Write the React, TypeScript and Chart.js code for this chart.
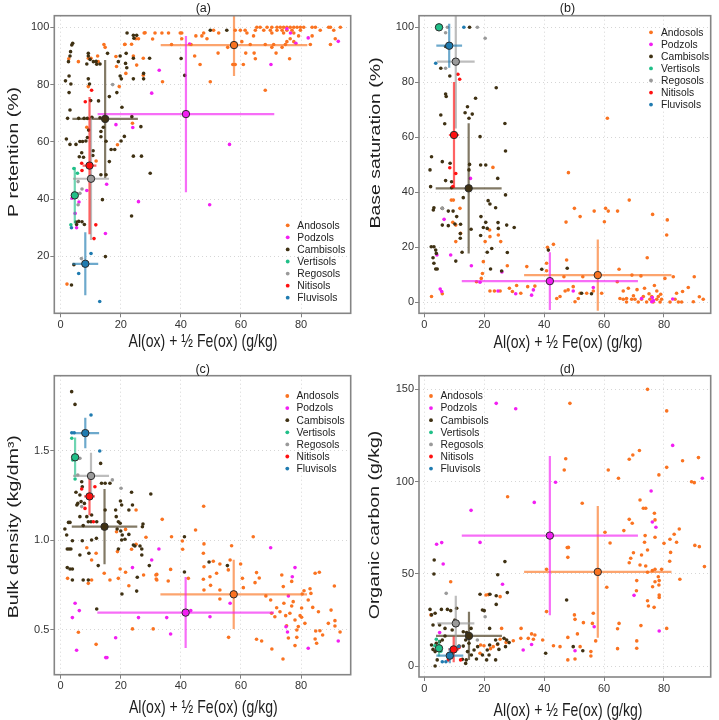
import React, { useEffect, useRef } from 'react';
import { Chart, registerables } from 'chart.js';

Chart.register(...registerables);

const FONT = "'Liberation Sans', Arial, Helvetica, sans-serif";
const SOILS = ['Andosols', 'Podzols', 'Cambisols', 'Vertisols', 'Regosols', 'Nitisols', 'Fluvisols'];
const COLORS = ['#fa7321', '#f21ff2', '#3f3113', '#20bf88', '#9a9a9a', '#ff1010', '#1f7bb0'];
const BAR_ALPHA = 'a6';
const X_LABEL = 'Al(ox) + ½ Fe(ox) (g/kg)';
const X_TICKS = [0, 20, 40, 60, 80];

// ---------- Panel (a): P retention ----------
const A_AND = [
  [14.8, 93], [12.5, 88], [9.2, 89.2], [10.1, 89.2], [5.9, 88], [18.6, 86.3], [21.4, 94.1], [23.6, 94.1], [25.3, 86.8], [27.5, 89.2],
  [30.6, 95.9], [28.1, 98.1], [27.5, 83.3], [19.5, 79.3], [9.2, 79.3], [18.4, 89.8], [21.7, 83.9], [23.9, 66.5], [8.7, 65.1], [11.8, 53.3],
  [2.1, 10.3], [25, 96], [25.9, 96], [31.4, 98], [27.8, 98], [14.4, 94], [21.3, 94], [24.2, 90], [12.3, 90], [2.7, 89], [18.9, 59],
  [65.3, 100], [66.4, 100], [68.7, 100], [70.3, 100], [72, 100], [73.1, 100], [74.2, 100], [75.3, 100], [76.4, 100], [77.6, 100],
  [78.7, 100], [79.8, 100], [80.9, 100], [83.7, 100], [84.8, 100], [89.2, 100], [89.8, 100], [93.1, 100],
  [50.9, 99], [58.1, 99], [59.8, 99], [61.4, 99], [64.8, 99], [67.6, 99], [69.8, 99], [72, 99], [73.7, 99], [75.3, 99], [77, 99], [79.8, 99], [86.4, 99], [90.9, 99],
  [33.7, 98], [35.9, 98], [39.8, 98], [40.3, 98], [47.6, 98], [52.6, 98], [62, 98], [70.3, 98], [74.2, 98], [77.6, 98],
  [45, 97], [47, 97], [64.2, 97], [79.2, 97], [83.7, 97],
  [40.3, 96], [48.7, 96], [76.4, 96], [91.4, 96],
  [60.3, 95], [75.3, 95], [77.6, 95],
  [36.9, 94], [43.4, 94], [63.1, 94], [68.1, 94], [70.9, 94], [74.8, 94], [83.1, 94], [89.8, 94],
  [55.6, 93], [70.3, 93], [73.7, 93],
  [52.4, 91], [61.6, 91], [64.4, 91], [71.7, 91],
  [44.6, 90], [64.8, 89], [76.2, 89],
  [46.4, 87], [57.3, 87], [58.1, 87], [60.8, 87],
  [33.9, 81], [49.8, 81], [68.1, 78],
];
const A_POD = [
  [32.8, 85], [30.3, 77], [18.4, 66], [24, 65], [56.2, 59.1], [15.3, 45.2], [8.7, 43], [25.9, 39.1], [49.6, 38], [6.1, 39],
  [4.8, 35], [5.3, 30], [14.9, 28], [3.8, 40.3], [70, 87], [75.3, 99.5], [82.4, 96.3], [92.4, 95.1], [78.3, 94.4], [42.9, 94.2], [76.5, 98],
];
const A_CAM = [
  [3.7, 93.8], [4, 94.4], [3.3, 91.5], [3.1, 90], [2.6, 88], [2.8, 83], [3.4, 80.2], [2.8, 77.2], [1.6, 81.3], [3.1, 71.1],
  [2.3, 68.2], [1.9, 61], [3.1, 59.1], [5.1, 59.1], [6.2, 54.8], [7.6, 54.6], [7, 56.2], [6.4, 60.1], [7.3, 60.1], [6, 68.2],
  [7.8, 68.2], [8.9, 68.2], [10.4, 68.6], [9.2, 90.9], [9.2, 90], [9.2, 82], [9.6, 80.2], [8.7, 87.2], [9.8, 88.8], [10.9, 88],
  [11.8, 88.1], [13.1, 87.2], [12, 87.1], [15.6, 90.9], [19.8, 90], [19.2, 88], [21.8, 90.9], [21.6, 87.4], [22.1, 98], [24.2, 97.2],
  [25.3, 97.2], [24.4, 96.2], [24.2, 89.2], [29.6, 89.2], [27.6, 83.9], [27.6, 82], [24.2, 82], [22, 85.9], [19.8, 83], [20.2, 82],
  [16.2, 75.8], [18.7, 77.2], [20.4, 72.1], [21.2, 61.9], [20.1, 60.3], [18, 57.3], [16.8, 57.3], [16.2, 53.1], [13.4, 63.6], [14.2, 65.1],
  [13.1, 68.4], [12.6, 74.3], [13.4, 61.8], [15.1, 60.2], [10, 74.4], [10.7, 55.2], [10.8, 56.9], [9.3, 64.1], [8.9, 61.5], [8.4, 60.3],
  [15.1, 48.5], [13.4, 48.5], [13.9, 39.8], [26.7, 65.3], [23.7, 68.8], [24.2, 55], [26.9, 55], [29.8, 49], [23.6, 34.1], [14.9, 19.9],
  [3.6, 10], [4.4, 17.1], [5.1, 32], [6, 32.2], [7.1, 32.1], [7.9, 31.1], [5.3, 31.1], [40.1, 89.1], [41.3, 83.2], [49.8, 99], [55.3, 99],
];
const A_VER = [[4.4, 50.7], [5.6, 49], [3.4, 31], [4.4, 42]];
const A_REG = [[7.1, 43.5], [6.4, 42], [5.8, 46.1], [4.4, 41], [6.9, 19.2], [17.3, 80], [5.8, 38]];
const A_NIT = [[8.2, 74], [10.3, 78], [7.1, 50], [11.7, 31], [11.1, 26.2], [7, 52.5]];
const A_FLU = [[10.1, 21], [6, 14], [3.6, 30], [13, 4.2]];
const A_MX = [57.7, 41.7, 14.8, 4.7, 10.1, 9.6, 8.2];
const A_SX = [24.4, 29.4, 10.9, 0.6, 6.0, 2.3, 4.3];
const A_MY = [93.8, 69.7, 68.0, 41.3, 47.1, 51.7, 17.4];
const A_SY = [10.8, 27.3, 20.6, 9.8, 21.4, 24.0, 11.0];

// ---------- Panel (b): Base saturation ----------
const B_AND = [
  [9, 37.1], [9.7, 37.1], [11.9, 34.1], [9.5, 29], [10.5, 28], [12.1, 25], [10.5, 22], [21.8, 26.2], [21.9, 23.8], [20.3, 22],
  [24.7, 24.4], [25.5, 22], [19.7, 14.7], [19.4, 10.4], [19, 8.6], [17.4, 7.4], [21.9, 4], [23.4, 4], [25.3, 4], [28.4, 5],
  [29.4, 3.8], [27.7, 13.2], [22.9, 49], [6, 3], [2.4, 2],
  [30.8, 6], [32.2, 3.2], [34.5, 5.6], [34.2, 12.9], [36.9, 5.8], [40.8, 14.1], [41.1, 19.9], [43.1, 21], [40.8, 11.4], [44.2, 1.3],
  [45.3, 2], [47, 4], [46.6, 9.2], [47.5, 15.3], [48.1, 47.1], [47.3, 29.1], [48, 4.4], [49.7, 5.6], [50.3, 0.1], [51.4, 1.3],
  [52, 3.2], [50.1, 34.1], [52, 31.1], [52.9, 9.2], [54.2, 3.2], [56.4, 4], [56.7, 33.1], [59.2, 3.2], [60.1, 29.2], [60.5, 34.1],
  [61.1, 66.9], [61.4, 33.1], [64.5, 33.1], [65, 11.9], [64.4, 7.4], [66.4, 4], [65.3, 1.3], [67.5, 1.3], [68.1, 5], [68.4, 37.1],
  [69.3, 9.8], [69.8, 2.3], [70.3, 1], [72.3, 9.5], [74.4, 16.1], [76.2, 31.9], [77.6, 4], [80.3, 8.6], [80.9, 24.4], [81.1, 29.9],
  [83.1, 9.2], [84.2, 3.2], [86.2, 3.8], [88.1, 5.3], [90.1, 9.2], [89.8, 0.1], [91.8, 1.9], [93.1, 1],
  [69.2, 1], [71.4, 0], [72.5, 1], [73.1, 2], [74.2, 0], [75.3, 1], [75.9, 2], [76.4, 0], [77.6, 1], [78.1, 2],
  [78.7, 0], [79.2, 1], [82, 0], [83.7, 1], [84.8, 0], [85.9, 0], [66.4, 1], [67.5, 0], [73.5, 5], [75, 3], [76.8, 6], [78.9, 2.8], [71, 4.5],
];
const B_POD = [
  [6.6, 30.1], [8.8, 17.1], [4.2, 17.1], [15.7, 13.2], [18.6, 7.2], [24.6, 4], [25.9, 10.9], [30.5, 3], [15.4, 45], [5.3, 4.7],
  [5.8, 3.8], [35.8, 2.5], [36.4, 4.4], [49.7, 4], [56.4, 5.3], [72.5, 1.3], [76.1, 1.6], [75.9, 0.1], [82.9, 1.1], [76.5, 0.5],
];
const B_CAM = [
  [15.1, 100], [7.1, 93], [5.5, 85.1], [8.5, 82.3], [7.1, 75.7], [7.3, 74.8], [14.4, 71.1], [17.1, 74.2], [13.6, 68.9], [16, 68.4],
  [14.9, 66.9], [5.5, 68.1], [6.8, 64.9], [24, 78], [26.9, 65], [18.6, 60.2], [27.1, 55], [2.4, 52.9], [6, 51.1], [8.6, 50.5],
  [1.9, 48.1], [15.1, 50.1], [14.9, 48.1], [18.8, 49.9], [20.5, 49.9], [24.5, 45], [2.1, 42], [7.1, 44.2], [9.1, 43.8], [9.1, 41.6],
  [13, 38], [27.1, 39], [3.2, 34.3], [3, 33.5], [6, 34.1], [8, 33.1], [9.6, 33.1], [10.8, 31.1], [12.1, 28.3], [10.2, 28.4],
  [8, 27.8], [6, 28], [12, 24.9], [12, 23.2], [2.3, 20.1], [3.2, 20.1], [3.8, 18.9], [4, 17.7], [2.9, 16.1], [3.2, 14.1],
  [3.8, 12], [4.3, 12], [18.9, 31.1], [18.8, 24.2], [20.5, 29], [21, 26.8], [19.7, 27.1], [24.6, 28.9], [24.7, 26.8], [27.5, 28],
  [30, 27.1], [21, 18.1], [22.5, 19.5], [22.1, 12], [27.7, 18], [12.6, 18.1], [10.5, 14.9], [15.6, 26.5], [21.3, 36.9], [21.9, 35.7],
  [23.8, 34.3], [25.8, 11.3], [39.2, 11.9], [41.4, 18.9], [47.7, 12.3], [52.5, 3.2], [55.8, 3],
];
const B_VER = [[4.2, 100], [5.4, 100]];
const B_REG = [[7.7, 100], [17.7, 100], [20.3, 96], [7.1, 98], [6, 34.1], [7.1, 85.1]];
const B_NIT = [[11.2, 82.9], [11.8, 81.1], [8.5, 48.9], [10.5, 46.8], [9.5, 42]];
const B_FLU = [[13.2, 100], [3.8, 86.9]];
const B_MX = [57.9, 41.9, 14.8, 4.9, 10.5, 9.9, 8.3];
const B_SX = [24.6, 29.4, 11.0, 0, 6.3, 1.7, 4.3];
const B_MY = [9.8, 7.6, 41.4, 100, 87.5, 60.8, 93.3];
const B_SY = [13.0, 10.5, 23.7, 0, 24.3, 19.3, 8.0];

// ---------- Panel (c): Bulk density ----------
const C_AND = [
  [25.1, 1.169], [33.8, 1.117], [18.6, 1.048], [21.6, 1.061], [25.1, 0.978], [28.4, 1.017], [8.7, 0.959], [11.8, 0.928], [18.9, 0.937], [23.6, 0.95],
  [10.3, 0.89], [2.3, 0.788], [10.3, 0.779], [9.2, 0.76], [14.5, 0.816], [16.4, 0.779], [19.8, 0.84], [19.2, 0.788], [21.6, 0.822], [27.6, 0.807],
  [31.7, 0.807], [31.8, 0.784], [22.7, 0.747], [23.9, 0.506], [30.8, 0.506], [5.9, 0.487], [11.8, 0.42],
  [36.9, 1.02], [36.6, 0.838], [35.8, 0.773], [32, 0.81], [32, 0.779], [40.5, 0.996], [40.6, 0.95], [44.9, 1.058], [47.7, 0.98],
  [47.5, 0.928], [47.7, 0.853], [47.5, 0.783], [47.7, 0.723], [42.5, 0.788], [49.7, 0.797], [49.9, 0.749], [50.8, 0.883], [51.9, 0.816], [53, 0.868],
  [53, 0.723], [53, 0.673], [55.8, 0.835], [56.4, 0.89], [56.9, 0.97], [55.9, 0.459], [59.9, 0.868], [60.5, 0.788], [60.8, 0.736], [64.1, 1.02],
  [64.7, 0.764], [65.2, 0.82], [66.1, 0.79], [68.3, 0.69], [69.9, 0.667], [70.2, 0.593], [71.3, 0.574], [71.9, 0.624], [73, 0.602], [73.6, 0.807],
  [74.1, 0.742], [74.3, 0.649], [74.9, 0.58], [75.2, 0.524], [75.8, 0.455], [76.3, 0.593], [76.9, 0.634], [77.4, 0.658], [78, 0.556], [78.6, 0.5],
  [78.6, 0.459], [79.1, 0.519], [78, 0.413], [79.7, 0.58], [80.2, 0.623], [80.2, 0.571], [80.4, 0.701], [81, 0.719], [81.3, 0.537], [82.4, 0.667],
  [83, 0.73], [83.3, 0.704], [83.9, 0.626], [84.7, 0.816], [84.9, 0.494], [84.7, 0.45], [85.2, 0.426], [85.8, 0.602], [86.3, 0.496], [87.2, 0.472],
  [89.1, 0.537], [90, 0.611], [91.1, 0.745], [91.3, 0.552], [91.3, 0.522], [93, 0.489], [86.1, 0.822], [76.9, 0.771], [47.6, 1.19], [74, 0.338],
  [70.3, 0.394], [65.2, 0.448], [66.9, 0.439],
];
const C_POD = [
  [32.7, 0.952], [30.3, 0.89], [23.9, 0.848], [4.8, 0.649], [6.2, 0.608], [3.9, 0.569], [25.9, 0.569], [18.3, 0.457], [5.3, 0.387], [15, 0.346],
  [15.4, 0.346], [35.3, 0.569], [36.6, 0.478], [43.3, 0.608], [49.7, 0.574], [56.4, 0.649], [69.9, 0.959], [75, 0.518], [75.5, 0.489], [75.8, 0.69],
  [77.1, 0.797], [78, 0.848], [82.4, 0.398], [92.4, 0.439],
];
const C_CAM = [
  [3.66, 1.829], [4.77, 1.758], [13.3, 1.429], [7, 1.327], [7.2, 1.299], [13.6, 1.318], [14.8, 1.318], [16.4, 1.318], [23.6, 1.268], [30, 1.258],
  [5.1, 1.268], [6.4, 1.253], [5.7, 1.206], [6.8, 1.216], [7.9, 1.206], [5.4, 1.197], [14.8, 1.169], [19.9, 1.219], [20.3, 1.197], [23.9, 1.197],
  [22.7, 1.169], [18.3, 1.169], [18.5, 1.132], [6.4, 1.132], [8.7, 1.132], [10.3, 1.141], [9.2, 1.104], [10.1, 1.104], [12, 1.104], [2.6, 1.1],
  [3.1, 1.1], [1.4, 1.063], [2, 1.03], [7.5, 1.082], [19.2, 1.104], [19.8, 1.095], [27.4, 1.091], [27.2, 1.076], [18.8, 1.063], [20, 1.052],
  [20.5, 1.03], [22.7, 1.033], [3.9, 0.998], [7.2, 0.998], [10.3, 1.002], [11.9, 1.011], [20.3, 1.002], [21.4, 1.006], [24.2, 0.974], [24.7, 0.968],
  [26.4, 0.968], [27, 0.952], [6.4, 0.918], [9.4, 0.928], [19.2, 0.952], [27, 0.918], [2.2, 0.952], [2.8, 0.952], [3.4, 0.952], [12.5, 0.859],
  [2.2, 0.848], [3.1, 0.84], [3.9, 0.84], [3.9, 0.779], [7.5, 0.779], [9.2, 0.779], [25.5, 0.794], [29.5, 0.859], [20.4, 0.701], [25.3, 0.717],
  [12, 0.617], [41.2, 1.02], [49.4, 0.879], [55.5, 0.859], [41.2, 0.823],
];
const C_VER = [[3.7, 1.569], [4.8, 1.342], [4, 1.448]];
const C_REG = [[6.4, 1.457], [17.2, 1.337], [20.1, 1.29], [7, 1.188], [5.7, 1.364]];
const C_NIT = [[7, 1.286], [11.4, 1.299], [8.1, 1.178], [10.9, 1.104]];
const C_FLU = [[10.1, 1.699], [13, 1.498], [3.7, 1.6], [4.5, 1.6]];
const C_MX = [57.6, 41.6, 14.6, 4.8, 10.1, 9.6, 8.2];
const C_SX = [24.4, 29.4, 10.9, 0.4, 6.0, 1.8, 4.6];
const C_MY = [0.699, 0.597, 1.076, 1.463, 1.359, 1.245, 1.598];
const C_SY = [0.193, 0.198, 0.21, 0.11, 0.13, 0.105, 0.085];

// ---------- Panel (d): Organic carbon ----------
const D_AND = [
  [74.5, 150], [48.6, 142.4], [80.9, 138.3], [47.2, 112.4], [46.7, 106.3], [68.4, 112.1], [69.6, 114.4], [71.8, 116.8], [61.4, 106.3], [80.9, 107.7],
  [86.2, 111.3], [91.5, 113], [89.2, 99.9], [90.1, 99.4], [78.3, 103.6], [64.8, 101.8], [27.8, 91.8], [52.7, 88.2], [72, 90], [73.1, 85.5],
  [73.9, 85.5], [68.4, 79.5], [69.4, 77.4], [66.6, 73.4], [60.3, 72.5], [48.1, 64.3], [62, 66.7], [77, 79.2], [76.8, 82.8], [85.1, 74.3],
  [83.4, 71.4], [84.2, 67.1], [82, 68.7], [80, 66.5], [82.2, 61.6], [81.9, 56.8], [77, 69.8], [73.7, 70.7], [73.5, 67.1], [74.5, 62.9],
  [72.5, 60.2], [69.8, 61.4], [68.4, 56], [68.9, 58.4], [72, 54.8], [73.9, 54.2], [74.5, 50.8], [76.1, 51.7], [77, 52.4], [78.1, 48.4],
  [78.4, 46.3], [78.3, 43.9], [78.4, 38.5], [78.4, 37.2], [79.2, 52.4], [77, 45.7], [76.2, 43], [76.7, 31.8], [74.5, 35.4], [74.8, 32.5],
  [70.9, 46.3], [70.8, 40.8], [70.9, 13.6], [70.9, 9.6], [72.3, 21.9], [80.9, 20.4], [85.3, 47], [90.3, 65.4], [91.8, 64.7], [93.5, 53.9],
  [65, 23.1], [64.5, 20.2], [64.5, 9.4], [60.9, 42.7], [57.2, 13.6], [56.4, 28.6], [56.1, 23.1], [55.6, 7.8], [55.6, 5.4], [52, 10.5],
  [51.1, 17.4], [53.1, 23.5], [50.1, 27.7], [50.3, 25.3], [47.9, 15.5], [47.9, 3.3], [50.3, 3.8], [45.3, 10.5], [43.1, 11], [40.8, 29.5],
  [39.5, 14.1], [40.8, 52.4], [47.9, 58.9], [47.7, 64.2], [35.8, 17.4], [36.4, 14.5], [36.9, 16.8], [34.7, 15], [32.3, 20.4], [32.2, 15],
  [29.7, 13.7], [27.3, 12.8], [25.8, 20.4], [25.3, 14.5], [24.4, 11.7], [23, 10.5], [22.1, 9.4], [19.9, 11], [20.6, 38.5], [21.4, 38.7],
  [25.3, 37.6], [8.8, 45.7], [2.2, 27.7], [18.8, 11.4], [18.6, 6.9],
];
const D_POD = [
  [24, 142.4], [30.5, 139.5], [82.9, 119.6], [92.8, 101.8], [43.8, 99.6], [36.7, 88.7], [15.6, 84.4], [18.6, 67], [4.1, 66], [5.8, 66.9],
  [6.3, 55.3], [26.1, 44.3], [75.7, 94.9], [76.1, 78.1], [77.3, 75.2], [70, 38.3], [78.4, 19], [56.7, 21.3], [50.3, 8.3], [35.8, 11.7],
  [33, 8.7], [5.1, 18.1],
];
const D_CAM = [
  [3.2, 49.9], [26.9, 56.6], [24.5, 49.5], [18.6, 38.9], [21.9, 38.9], [24, 38.1], [27.7, 39.8], [24, 33.4], [19.4, 30.4], [20, 30],
  [5.7, 30.7], [3.6, 28.6], [2.4, 27.7], [2.9, 22.2], [5.1, 22.2], [10.2, 24.9], [6.9, 20.4], [9.3, 19.5], [13, 18.6], [14.1, 18.1],
  [15.6, 20.4], [4, 12.3], [2.4, 11.4], [2.9, 9], [3.6, 7.8], [5.1, 13.2], [6, 14.1], [6.9, 16.3], [11.6, 10.8], [13, 10.8],
  [13.8, 14.1], [14.9, 12.3], [14.4, 7.8], [15.7, 6], [17.4, 3.8], [19.4, 6], [21, 8.7], [21.8, 11.4], [21.8, 20.4], [23.8, 14.1],
  [26.6, 15], [27.5, 14.1], [28.3, 12.7], [27.1, 10.5], [24.5, 11.9], [24.9, 9], [21.6, 6], [23.8, 3.3], [17.8, 10.5], [16.6, 8.7],
  [20.8, 3.3], [14, 3.3], [12.7, 3.6], [13.8, 1.4], [4.3, 3.3], [3.6, 0], [40.5, 6.9], [3.3, 57.5], [47.5, 35.8], [49.7, 10.5],
  [52.9, 8.3], [1.9, 30.7], [7.7, 30.7], [8.8, 30], [10.8, 31.3],
];
const D_VER = [[4, 14.5], [5.5, 8], [3.5, 11]];
const D_REG = [[7.3, 39.4], [20.3, 26.7], [17.7, 14.1]];
const D_NIT = [[11.6, 10.1], [12.1, 3.3], [8, 3.3]];
const D_FLU = [[6, 2.3], [7.2, 2.3], [11.5, 10.5]];
const D_MX = [57.9, 41.9, 14.9, 4.9, 10.5, 9.8, 8.5];
const D_SX = [24.6, 29.4, 11.0, 0.5, 6.2, 1.8, 4.5];
const D_MY = [51.0, 70.7, 16.3, 9.6, 23.1, 9.0, 5.6];
const D_SY = [35.7, 43.2, 13.1, 4.5, 15.0, 7.0, 4.1];

const PANELS = [
  {
    key: 'a', left: 0, top: 0, w: 360, area: { left: 54.3, right: 350.7, top: 15.7, bottom: 313.3 },
    xr: [-2.12, 96.54], yr: [0.1, 104.06], yt: [20, 40, 60, 80, 100], yDec: 0,
    title: '(a)', titlePos: [203.3, 8.7], xTitlePos: [203, 341.5], yLabel: 'P retention (%)', yTitlePos: [14, 152],
    legend: { dotX: 287.7, textX: 297.3, y0: 225.3, step: 12.07 },
    points: [A_AND, A_POD, A_CAM, A_VER, A_REG, A_NIT, A_FLU], mx: A_MX, sx: A_SX, my: A_MY, sy: A_SY,
  },
  {
    key: 'b', left: 360, top: 0, w: 359, area: { left: 59, right: 350.7, top: 15.7, bottom: 313.3 },
    xr: [-1.78, 95.59], yr: [-4.11, 104.23], yt: [0, 20, 40, 60, 80, 100], yDec: 0,
    title: '(b)', titlePos: [207.5, 8.5], xTitlePos: [208, 343], yLabel: 'Base saturation (%)', yTitlePos: [16, 143],
    legend: { dotX: 291, textX: 301, y0: 32.3, step: 12.05 },
    points: [B_AND, B_POD, B_CAM, B_VER, B_REG, B_NIT, B_FLU], mx: B_MX, sx: B_SX, my: B_MY, sy: B_SY,
  },
  {
    key: 'c', left: 0, top: 360, w: 360, area: { left: 54.3, right: 350.7, top: 15.7, bottom: 314.7 },
    xr: [-2.12, 96.54], yr: [0.2507, 1.918], yt: [0.5, 1.0, 1.5], yDec: 1,
    title: '(c)', titlePos: [202.7, 9.3], xTitlePos: [203.3, 348], yLabel: 'Bulk density (kg/dm³)', yTitlePos: [13.5, 166.7],
    legend: { dotX: 287.3, textX: 296.5, y0: 36, step: 12.1 },
    points: [C_AND, C_POD, C_CAM, C_VER, C_REG, C_NIT, C_FLU], mx: C_MX, sx: C_SX, my: C_MY, sy: C_SY,
  },
  {
    key: 'd', left: 360, top: 360, w: 359, area: { left: 59, right: 350.7, top: 15.7, bottom: 317 },
    xr: [-1.78, 95.59], yr: [-5.96, 157.39], yt: [0, 50, 100, 150], yDec: 0,
    title: '(d)', titlePos: [207.3, 10], xTitlePos: [208, 350.5], yLabel: 'Organic carbon (g/kg)', yTitlePos: [15, 165],
    legend: { dotX: 71, textX: 80.5, y0: 36, step: 12.1 },
    points: [D_AND, D_POD, D_CAM, D_VER, D_REG, D_NIT, D_FLU], mx: D_MX, sx: D_SX, my: D_MY, sy: D_SY,
  },
];

const CANVAS_H = 360;

function decorPlugin(p: any) {
  return {
    id: 'decor_' + p.key,
    afterDraw(chart: any) {
      const ctx = chart.ctx;
      const ca = chart.chartArea;
      ctx.save();
      ctx.setLineDash([]);
      ctx.strokeStyle = '#858585';
      ctx.lineWidth = 1.6;
      ctx.strokeRect(ca.left, ca.top, ca.right - ca.left, ca.bottom - ca.top);

      ctx.fillStyle = '#222';
      ctx.textAlign = 'center';
      ctx.textBaseline = 'middle';
      ctx.font = `12.5px ${FONT}`;
      ctx.fillText(p.title, p.titlePos[0], p.titlePos[1]);

      ctx.save();
      ctx.translate(p.xTitlePos[0], p.xTitlePos[1]);
      ctx.scale(0.74, 1);
      ctx.font = `19px ${FONT}`;
      ctx.fillStyle = '#1e1e1e';
      ctx.fillText(X_LABEL, 0, 0);
      ctx.restore();

      ctx.save();
      ctx.translate(p.yTitlePos[0], p.yTitlePos[1]);
      ctx.rotate(-Math.PI / 2);
      ctx.scale(1, 0.76);
      ctx.font = `19.5px ${FONT}`;
      ctx.fillStyle = '#1e1e1e';
      ctx.fillText(p.yLabel, 0, 0);
      ctx.restore();

      ctx.font = `10.3px ${FONT}`;
      ctx.textAlign = 'left';
      SOILS.forEach((s, i) => {
        const y = p.legend.y0 + i * p.legend.step;
        ctx.beginPath();
        ctx.arc(p.legend.dotX, y, 1.9, 0, Math.PI * 2);
        ctx.fillStyle = COLORS[i];
        ctx.fill();
        ctx.fillStyle = '#222';
        ctx.fillText(s, p.legend.textX, y + 0.5);
      });
      ctx.restore();
    },
  };
}

function buildConfig(p: any) {
  const datasets: any[] = [];
  p.points.forEach((pts: number[][], i: number) => {
    datasets.push({
      label: SOILS[i],
      data: pts.map(([x, y]) => ({ x, y })),
      backgroundColor: COLORS[i],
      borderWidth: 0,
      pointRadius: 1.8,
      pointHoverRadius: 1.8,
      order: 100 - i,
    });
  });
  SOILS.forEach((s, i) => {
    const mx = p.mx[i], my = p.my[i], sx = p.sx[i], sy = p.sy[i];
    const bar = COLORS[i] + BAR_ALPHA;
    datasets.push({
      label: s + ' sd x',
      data: [{ x: mx - sx, y: my }, { x: mx + sx, y: my }],
      showLine: true, borderColor: bar, borderWidth: 2.2, pointRadius: 0, order: 50 - i,
    });
    datasets.push({
      label: s + ' sd y',
      data: [{ x: mx, y: my - sy }, { x: mx, y: my + sy }],
      showLine: true, borderColor: bar, borderWidth: 2.2, pointRadius: 0, order: 50 - i,
    });
    datasets.push({
      label: s + ' mean',
      data: [{ x: mx, y: my }],
      backgroundColor: COLORS[i], borderColor: '#2b2b2b', borderWidth: 1,
      pointRadius: 3.7, pointHoverRadius: 3.7, order: 10 - i,
    });
  });

  const gridCommon = {
    color: '#d6d6d6', lineWidth: 1, drawTicks: true, tickLength: 4,
    tickColor: '#808080', tickWidth: 1, tickBorderDash: [], borderDash: [1, 3],
  };
  const tickFont = { family: FONT, size: 11 };

  return {
    type: 'scatter',
    data: { datasets },
    options: {
      animation: false,
      responsive: false,
      devicePixelRatio: 1,
      events: [],
      layout: { padding: { left: 0, right: p.w - p.area.right, top: p.area.top, bottom: 0 } },
      plugins: { legend: { display: false }, tooltip: { enabled: false }, title: { display: false } },
      scales: {
        x: {
          type: 'linear', position: 'bottom', min: p.xr[0], max: p.xr[1],
          afterBuildTicks: (s: any) => { s.ticks = X_TICKS.map((v) => ({ value: v })); },
          afterFit: (s: any) => { s.height = CANVAS_H - p.area.bottom; },
          ticks: { autoSkip: false, maxRotation: 0, minRotation: 0, padding: 1, color: '#333', font: tickFont, callback: (v: any) => String(v) },
          grid: gridCommon,
          border: { display: false, dash: [1, 3] },
        },
        y: {
          type: 'linear', position: 'left', min: p.yr[0], max: p.yr[1],
          afterBuildTicks: (s: any) => { s.ticks = p.yt.map((v: number) => ({ value: v })); },
          afterFit: (s: any) => { s.width = p.area.left; },
          ticks: { autoSkip: false, padding: 1, color: '#333', font: tickFont, callback: (v: any) => Number(v).toFixed(p.yDec) },
          grid: gridCommon,
          border: { display: false, dash: [1, 3] },
        },
      },
    },
    plugins: [decorPlugin(p)],
  };
}

function Panel({ p }: { p: any }) {
  const ref = useRef<HTMLCanvasElement>(null);
  useEffect(() => {
    const chart = new Chart(ref.current as HTMLCanvasElement, buildConfig(p) as any);
    return () => chart.destroy();
  }, []);
  return (
    <canvas
      ref={ref}
      width={p.w}
      height={CANVAS_H}
      style={{ position: 'absolute', left: p.left, top: p.top, width: p.w, height: CANVAS_H }}
    />
  );
}

export default function App() {
  return (
    <div style={{ position: 'fixed', left: 0, top: 0, width: 719, height: 720, background: '#ffffff' }}>
      {PANELS.map((p) => (
        <Panel key={p.key} p={p} />
      ))}
    </div>
  );
}
